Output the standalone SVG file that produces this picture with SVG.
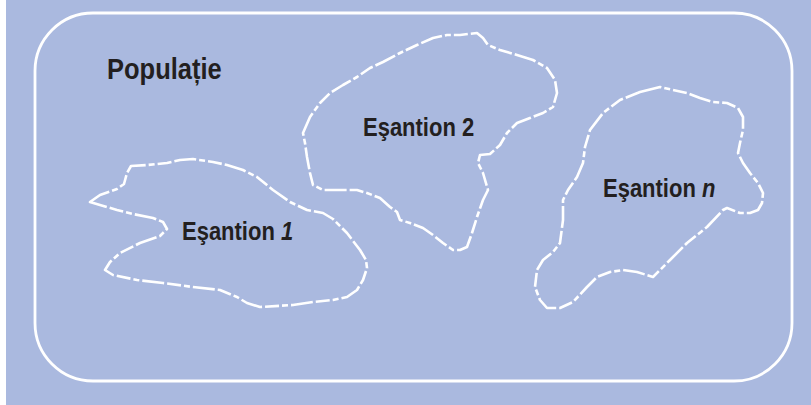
<svg xmlns="http://www.w3.org/2000/svg" width="811" height="405" viewBox="0 0 811 405">
<style>
.bg{fill:#aab9df}
.frame{fill:none;stroke:#ffffff;stroke-width:2.8}
.blob{fill:none;stroke:#ffffff;stroke-width:2.6;stroke-dasharray:22 3 6 3 14 3;stroke-linejoin:round}
.lbl{font-family:"Liberation Sans",Arial,sans-serif;font-weight:bold;fill:#231f20;font-size:22px}
.it{font-style:italic}
</style>
<rect x="0" y="0" width="811" height="405" fill="#ffffff"/>
<rect class="bg" x="6" y="0" width="805" height="405"/>
<rect class="frame" x="35" y="13" width="757" height="368" rx="58" ry="58"/>
<g id="populatie" transform="translate(107,79) scale(1,1.17)">
<text class="lbl" x="0" y="0" style="font-size:25.5px">Populație</text>
</g>
<g id="esantion1">
<path class="blob" d="M90,202 L100,195 L117,189 L124,184 L127,173 L131,166 L147,165 L167,163 L180,160 L193,159 L213,162 L227,165 L243,170 L257,177 L273,190 L290,202 L307,210 L323,213 L333,219 L347,233 L360,250 L366,260 L367,268 L363,280 L357,290 L347,297 L333,300 L313,302 L293,305 L260,307 L247,303 L237,297 L220,290 L193,287 L163,283 L137,280 L113,275 L105,270 L110,262 L120,253 L140,243 L160,236 L167,229 L163,222 L153,218 L133,214 L117,210 L100,205 Z"/>
<g transform="translate(182,240) scale(1,1.2)">
<text class="lbl" x="0" y="0">Eşantion</text>
<text class="lbl it" x="99" y="0">1</text>
</g>
</g>
<g id="esantion2">
<path class="blob" d="M303,133 L310,117 L320,103 L330,93 L343,85 L357,77 L370,68 L383,62 L400,53 L417,45 L433,38 L447,35 L460,35 L477,33 L483,38 L488,45 L500,50 L517,55 L533,60 L547,68 L555,80 L557,93 L553,107 L543,113 L530,118 L517,123 L507,133 L500,145 L490,154 L480,155 L478,163 L483,173 L488,190 L483,200 L477,217 L472,233 L467,247 L460,250 L453,250 L443,243 L433,235 L423,228 L410,223 L400,220 L397,212 L390,207 L380,198 L367,193 L357,190 L340,190 L323,190 L313,185 L310,173 L307,157 L305,143 Z"/>
<g transform="translate(363,136) scale(1,1.2)">
<text class="lbl" x="0" y="0">Eşantion 2</text>
</g>
</g>
<g id="esantionn">
<path class="blob" d="M640,92 L660,87 L673,90 L687,93 L700,98 L713,102 L727,103 L738,108 L743,117 L743,130 L740,143 L738,153 L743,163 L750,173 L758,183 L763,193 L762,203 L758,210 L750,213 L740,213 L727,208 L723,210 L707,227 L687,243 L670,260 L653,277 L637,272 L623,270 L610,272 L597,277 L587,287 L573,302 L560,308 L547,308 L540,300 L535,287 L537,270 L543,260 L553,252 L560,243 L563,220 L563,200 L568,190 L577,177 L583,163 L585,147 L590,130 L603,113 L620,100 Z"/>
<g transform="translate(603,197) scale(1,1.2)">
<text class="lbl" x="0" y="0">Eşantion</text>
<text class="lbl it" x="99" y="0">n</text>
</g>
</g>
<g id="connectors"/>
</svg>
